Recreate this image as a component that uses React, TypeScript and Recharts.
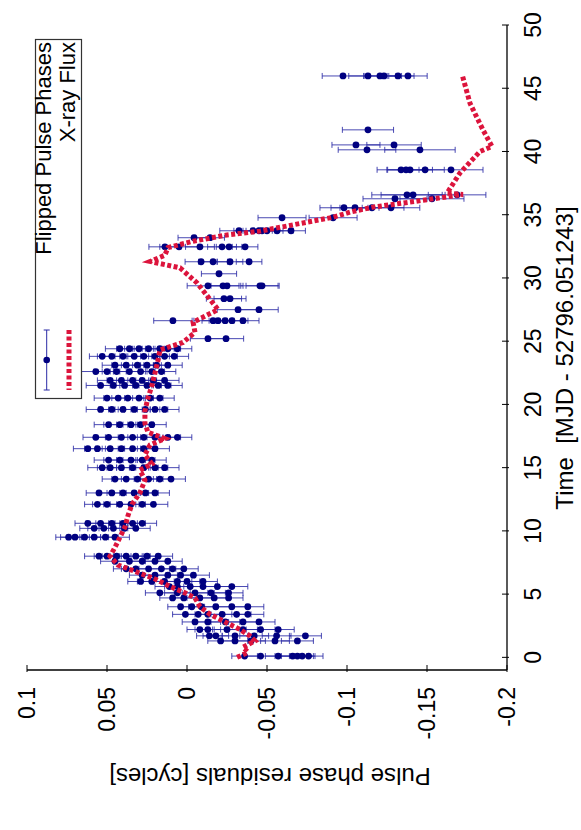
import React from 'react';
import { ScatterChart, Scatter, XAxis, YAxis, ErrorBar, Legend } from 'recharts';

// Flipped pulse phases, grouped by observing epoch (time in days since MJD 52796.051243)
const phaseEpochs = [
  0.1, 1.3, 1.7, 2.2, 2.8, 3.4, 4.0, 4.7, 5.1, 5.6, 6.0, 6.5, 7.0, 7.6, 8.0,
  9.5, 10.2, 10.6, 12.1, 13.0, 14.1, 15.0, 15.6, 16.5, 17.4, 18.4, 19.6, 20.5,
  21.5, 21.9, 22.6, 23.1, 23.8, 24.4,
  25.2, 26.62, 27.49, 28.36, 29.38, 30.33, 31.28, 32.46, 33.18, 33.73, 34.76,
  35.55, 36.26, 36.57, 38.55, 40.13, 40.52, 41.71, 45.97,
];
// residuals [cycles] at each epoch
const phaseResiduals = [
  [-0.076, -0.072, -0.069, -0.066, -0.057, -0.046, -0.036],
  [-0.069, -0.055, -0.04, -0.03, -0.021],
  [-0.074, -0.056, -0.042, -0.03, -0.018, -0.014],
  [-0.057, -0.046, -0.035, -0.025, -0.013, -0.008],
  [-0.045, -0.035, -0.024, -0.013, -0.005],
  [-0.038, -0.031, -0.022, -0.013, -0.007, 0.001],
  [-0.038, -0.028, -0.018, -0.009, -0.003, 0.004],
  [-0.026, -0.017, -0.008, 0.002, 0.009],
  [-0.026, -0.015, -0.005, 0.006, 0.017],
  [-0.028, -0.019, -0.01, -0.002, 0.006, 0.011],
  [-0.01, 0.0, 0.006, 0.014, 0.022, 0.029],
  [-0.004, 0.004, 0.012, 0.02, 0.028],
  [0.002, 0.009, 0.016, 0.024, 0.032, 0.038],
  [0.012, 0.02, 0.028, 0.036, 0.045],
  [0.018, 0.025, 0.032, 0.038, 0.044, 0.05, 0.055],
  [0.045, 0.051, 0.058, 0.064, 0.07, 0.074],
  [0.032, 0.039, 0.046, 0.052, 0.058],
  [0.028, 0.034, 0.04, 0.047, 0.054, 0.062],
  [0.021, 0.028, 0.035, 0.042, 0.05, 0.056],
  [0.02, 0.026, 0.033, 0.04, 0.047, 0.055],
  [0.01, 0.017, 0.024, 0.031, 0.038, 0.045],
  [0.014, 0.02, 0.027, 0.034, 0.041, 0.048, 0.053],
  [0.022, 0.028, 0.035, 0.042, 0.049],
  [0.02, 0.027, 0.034, 0.041, 0.048, 0.056, 0.062],
  [0.006, 0.012, 0.02, 0.027, 0.034, 0.041, 0.049, 0.057],
  [0.022, 0.029, 0.035, 0.042, 0.049],
  [0.014, 0.02, 0.026, 0.033, 0.04, 0.047, 0.054],
  [0.017, 0.023, 0.03, 0.037, 0.043, 0.05],
  [0.012, 0.018, 0.025, 0.032, 0.039, 0.046, 0.054],
  [0.014, 0.021, 0.028, 0.034, 0.041, 0.048],
  [0.016, 0.022, 0.029, 0.036, 0.044, 0.05, 0.057],
  [0.012, 0.019, 0.025, 0.031, 0.038, 0.045],
  [0.008, 0.014, 0.02, 0.027, 0.033, 0.04, 0.047, 0.053],
  [0.006, 0.012, 0.017, 0.024, 0.03, 0.036, 0.042],
  [-0.0131, -0.0244],
  [0.0088, -0.0163, -0.0194, -0.0238, -0.0281, -0.035],
  [-0.0319, -0.045],
  [-0.0231, -0.0269],
  [-0.0131, -0.0225, -0.025, -0.0456, -0.0469],
  [-0.02],
  [-0.0088, -0.0163, -0.0269, -0.0388],
  [0.0138, 0.005, -0.0081, -0.0219, -0.0263, -0.0363],
  [-0.0044, -0.0144],
  [-0.0325, -0.0413, -0.045, -0.0469, -0.05, -0.0563, -0.065],
  [-0.0594, -0.0913],
  [-0.0981, -0.105, -0.1156, -0.1275],
  [-0.13, -0.1531],
  [-0.1375, -0.1413, -0.1688],
  [-0.1338, -0.1369, -0.1394, -0.1488, -0.165],
  [-0.1125, -0.1456],
  [-0.1056, -0.1294],
  [-0.1131],
  [-0.0975, -0.1131, -0.1206, -0.1231, -0.1319, -0.1381],
];
// 1-sigma errors [cycles]
const phaseErrors = [
  [0.009, 0.008, 0.01, 0.009, 0.008, 0.009, 0.008],
  [0.01, 0.009, 0.009, 0.008, 0.008],
  [0.01, 0.009, 0.009, 0.008, 0.008, 0.008],
  [0.01, 0.009, 0.009, 0.008, 0.008, 0.008],
  [0.01, 0.009, 0.009, 0.008, 0.008],
  [0.01, 0.009, 0.009, 0.008, 0.008, 0.008],
  [0.01, 0.009, 0.009, 0.008, 0.008, 0.008],
  [0.009, 0.009, 0.008, 0.008, 0.008],
  [0.009, 0.009, 0.008, 0.008, 0.009],
  [0.01, 0.009, 0.008, 0.008, 0.008, 0.009],
  [0.009, 0.008, 0.009, 0.008, 0.009, 0.008],
  [0.01, 0.009, 0.008, 0.009, 0.008],
  [0.009, 0.008, 0.009, 0.008, 0.009, 0.008],
  [0.009, 0.008, 0.009, 0.01, 0.009],
  [0.009, 0.008, 0.009, 0.01, 0.009, 0.008, 0.009],
  [0.009, 0.008, 0.009, 0.01, 0.009, 0.008],
  [0.009, 0.008, 0.009, 0.01, 0.009],
  [0.009, 0.008, 0.009, 0.01, 0.009, 0.008],
  [0.009, 0.008, 0.009, 0.01, 0.009, 0.008],
  [0.009, 0.008, 0.009, 0.01, 0.009, 0.008],
  [0.009, 0.008, 0.009, 0.01, 0.009, 0.008],
  [0.009, 0.008, 0.009, 0.01, 0.009, 0.008, 0.009],
  [0.009, 0.008, 0.009, 0.01, 0.009],
  [0.009, 0.008, 0.009, 0.01, 0.009, 0.008, 0.009],
  [0.009, 0.008, 0.009, 0.01, 0.009, 0.01, 0.009, 0.008],
  [0.009, 0.008, 0.009, 0.01, 0.009],
  [0.009, 0.008, 0.009, 0.01, 0.009, 0.008, 0.009],
  [0.009, 0.008, 0.009, 0.01, 0.009, 0.008],
  [0.009, 0.008, 0.009, 0.01, 0.009, 0.008, 0.009],
  [0.009, 0.008, 0.009, 0.01, 0.009, 0.008],
  [0.009, 0.008, 0.009, 0.01, 0.009, 0.008, 0.009],
  [0.009, 0.008, 0.009, 0.01, 0.009, 0.008],
  [0.009, 0.008, 0.009, 0.01, 0.009, 0.008, 0.009, 0.008],
  [0.009, 0.008, 0.009, 0.01, 0.009, 0.008, 0.009],
  [0.011, 0.011],
  [0.012, 0.012, 0.01, 0.01, 0.01, 0.01],
  [0.013, 0.012],
  [0.011, 0.01],
  [0.013, 0.01, 0.01, 0.012, 0.01],
  [0.011],
  [0.01, 0.009, 0.008, 0.008],
  [0.01, 0.012, 0.009, 0.009, 0.008, 0.008],
  [0.01, 0.009],
  [0.012, 0.012, 0.01, 0.01, 0.01, 0.01, 0.009],
  [0.015, 0.015],
  [0.015, 0.015, 0.02, 0.018],
  [0.02, 0.02],
  [0.022, 0.02, 0.018],
  [0.015, 0.012, 0.014, 0.012, 0.02],
  [0.018, 0.022],
  [0.015, 0.017],
  [0.016],
  [0.013, 0.012, 0.01, 0.011, 0.01, 0.012],
];

// X-ray flux (scaled onto the residual axis)
const fluxTime = [
  0.0, 0.4, 0.8, 1.3, 1.7, 2.2, 2.8, 3.4, 4.0, 4.7, 5.1, 5.6, 6.2, 6.8, 7.3, 8.0,
  8.7, 9.5, 10.3, 11.2, 12.1, 13.0, 14.0, 14.8, 15.3, 16.0, 16.8, 17.3, 17.8, 18.5,
  19.5, 20.5, 21.5, 22.5, 23.5, 24.3, 24.9, 25.7, 26.5, 27.5, 28.3, 29.6, 30.8, 31.3,
  31.8, 32.4, 32.9, 33.4, 33.7, 34.2, 34.8, 35.2, 35.6, 36.0, 36.3, 36.6, 36.7, 38.3,
  40.0, 40.4, 41.7, 43.8, 46.1,
];
const fluxResidual = [
  -0.0313, -0.0381, -0.035, -0.0425, -0.0394, -0.0331, -0.0238, -0.0144, -0.0081, -0.005,
  0.0013, 0.0106, 0.02, 0.0325, 0.0431, 0.0481, 0.045, 0.0419, 0.0388, 0.0369,
  0.0344, 0.0294, 0.0263, 0.0294, 0.0219, 0.0263, 0.0231, 0.0138, 0.0244, 0.0263,
  0.0263, 0.0244, 0.0219, 0.02, 0.0181, 0.0169, 0.0025, -0.005, -0.0038, -0.0194,
  -0.0144, -0.0063, 0.0044, 0.0231, 0.0138, 0.0119, -0.0038, -0.025, -0.0456, -0.0663,
  -0.0913, -0.1019, -0.1163, -0.1394, -0.1563, -0.1725, -0.1625, -0.1706, -0.1831, -0.1906,
  -0.185, -0.1769, -0.1719,
];

const residualTicks = [0.1, 0.05, 0, -0.05, -0.1, -0.15, -0.2];
const timeTicks = [0, 5, 10, 15, 20, 25, 30, 35, 40, 45, 50];
const legendLabels = ['Flipped Pulse Phases', 'X-ray Flux'];
const timeTitle = 'Time  [MJD - 52796.051243]';
const residualTitle = 'Pulse phase residuals [cycles]';

const phaseData = phaseEpochs.flatMap((t, i) =>
  phaseResiduals[i].map((r, j) => ({ t, r, e: phaseErrors[i][j] }))
);
const fluxData = fluxTime.map((t, i) => ({ t, r: fluxResidual[i] }));

const FONT = '"Liberation Sans", Arial, Helvetica, sans-serif';
const BLUE = '#000080';
const ERR = '#2a2aa6';
const RED = '#dc143c';

const XTick = (props: any) => {
  const { x, y, payload } = props;
  return (
    <g>
      <line x1={x} y1={y} x2={x} y2={y - 7} stroke="#000" strokeWidth={1} />
      <text
        transform={`translate(${x + 8},${y + 15}) rotate(-90)`}
        textAnchor="end"
        fontSize={23}
        fontFamily={FONT}
        fill="#000"
      >
        {String(payload.value)}
      </text>
    </g>
  );
};

const YTick = (props: any) => {
  const { x, y, payload } = props;
  return (
    <g>
      <line x1={x} y1={y} x2={x - 7} y2={y} stroke="#000" strokeWidth={1} />
      <text
        transform={`translate(${x + 32},${y}) rotate(-90)`}
        textAnchor="middle"
        fontSize={23}
        fontFamily={FONT}
        fill="#000"
      >
        {String(payload.value)}
      </text>
    </g>
  );
};

const renderResidualTitle = () => (
  <text
    transform="translate(270,768) rotate(180)"
    textAnchor="middle"
    fontSize={24}
    fontFamily={FONT}
    fill="#000"
  >
    {residualTitle}
  </text>
);

const renderTimeTitle = () => (
  <text
    transform="translate(573,358) rotate(-90)"
    textAnchor="middle"
    fontSize={24}
    fontFamily={FONT}
    fill="#000"
    style={{ whiteSpace: 'pre' }}
  >
    {timeTitle}
  </text>
);

const renderLegend = () => (
  <svg width={48} height={361} style={{ display: 'block', overflow: 'visible' }}>
    <rect x={0.5} y={0.5} width={46} height={359} fill="#fff" stroke="#333" strokeWidth={1.2} />
    <text transform="translate(16,3) rotate(-90)" textAnchor="end" fontSize={22} fontFamily={FONT} fill="#000">
      {legendLabels[0]}
    </text>
    <text transform="translate(40,3) rotate(-90)" textAnchor="end" fontSize={22} fontFamily={FONT} fill="#000">
      {legendLabels[1]}
    </text>
    <line x1={11.7} y1={291} x2={11.7} y2={351} stroke={ERR} strokeWidth={1} />
    <line x1={8.7} y1={291} x2={14.7} y2={291} stroke={ERR} strokeWidth={1} />
    <line x1={8.7} y1={351} x2={14.7} y2={351} stroke={ERR} strokeWidth={1} />
    <circle cx={11.7} cy={321} r={3.3} fill={BLUE} />
    <line x1={34} y1={291} x2={34} y2={351} stroke={RED} strokeWidth={5} strokeDasharray="4 2.5" />
  </svg>
);

export default function App() {
  return (
    <div style={{ position: 'absolute', left: 0, top: 0 }}>
      <ScatterChart width={581} height={830} margin={{ top: 25, right: 0, bottom: 0, left: 27 }}>
        <XAxis
          type="number"
          dataKey="r"
          domain={[-0.2, 0.1]}
          reversed
          ticks={residualTicks}
          interval={0}
          allowDataOverflow
          height={160}
          tickSize={0}
          tickLine={false}
          axisLine={{ stroke: '#000', strokeWidth: 1.3 }}
          tick={<XTick />}
          label={renderResidualTitle}
        />
        <XAxis
          xAxisId="top"
          orientation="top"
          type="number"
          domain={[-0.2, 0.1]}
          reversed
          ticks={residualTicks}
          interval={0}
          allowDataOverflow
          height={0}
          mirror
          tickSize={7}
          tick={false}
          tickLine={{ stroke: '#000', strokeWidth: 1 }}
          axisLine={{ stroke: '#000', strokeWidth: 1.3 }}
        />
        <YAxis
          type="number"
          dataKey="t"
          orientation="right"
          domain={[-1, 50]}
          ticks={timeTicks}
          interval={0}
          allowDataOverflow
          width={74}
          tickSize={0}
          tickLine={false}
          axisLine={{ stroke: '#000', strokeWidth: 1.3 }}
          tick={<YTick />}
          label={renderTimeTitle}
        />
        <YAxis
          yAxisId="left"
          orientation="left"
          type="number"
          domain={[-1, 50]}
          ticks={timeTicks}
          interval={0}
          allowDataOverflow
          width={0}
          mirror
          tickSize={7}
          tick={false}
          tickLine={{ stroke: '#000', strokeWidth: 1 }}
          axisLine={{ stroke: '#000', strokeWidth: 1.3 }}
        />
        <Scatter
          name={legendLabels[0]}
          data={phaseData}
          isAnimationActive={false}
          shape={(p: any) => <circle cx={p.cx} cy={p.cy} r={3.4} fill={BLUE} />}
        >
          <ErrorBar dataKey="e" direction="x" width={3} stroke={ERR} strokeWidth={1} strokeOpacity={0.85} />
        </Scatter>
        <Scatter
          name={legendLabels[1]}
          data={fluxData}
          isAnimationActive={false}
          fill={RED}
          line={{ stroke: RED, strokeWidth: 5, strokeDasharray: '4 2.5' }}
          lineType="joint"
          shape={() => <g />}
        />
        <Legend
          layout="horizontal"
          verticalAlign="middle"
          align="center"
          content={renderLegend}
          wrapperStyle={{ left: 35, top: 39, width: 48, height: 361 }}
        />
      </ScatterChart>
    </div>
  );
}
